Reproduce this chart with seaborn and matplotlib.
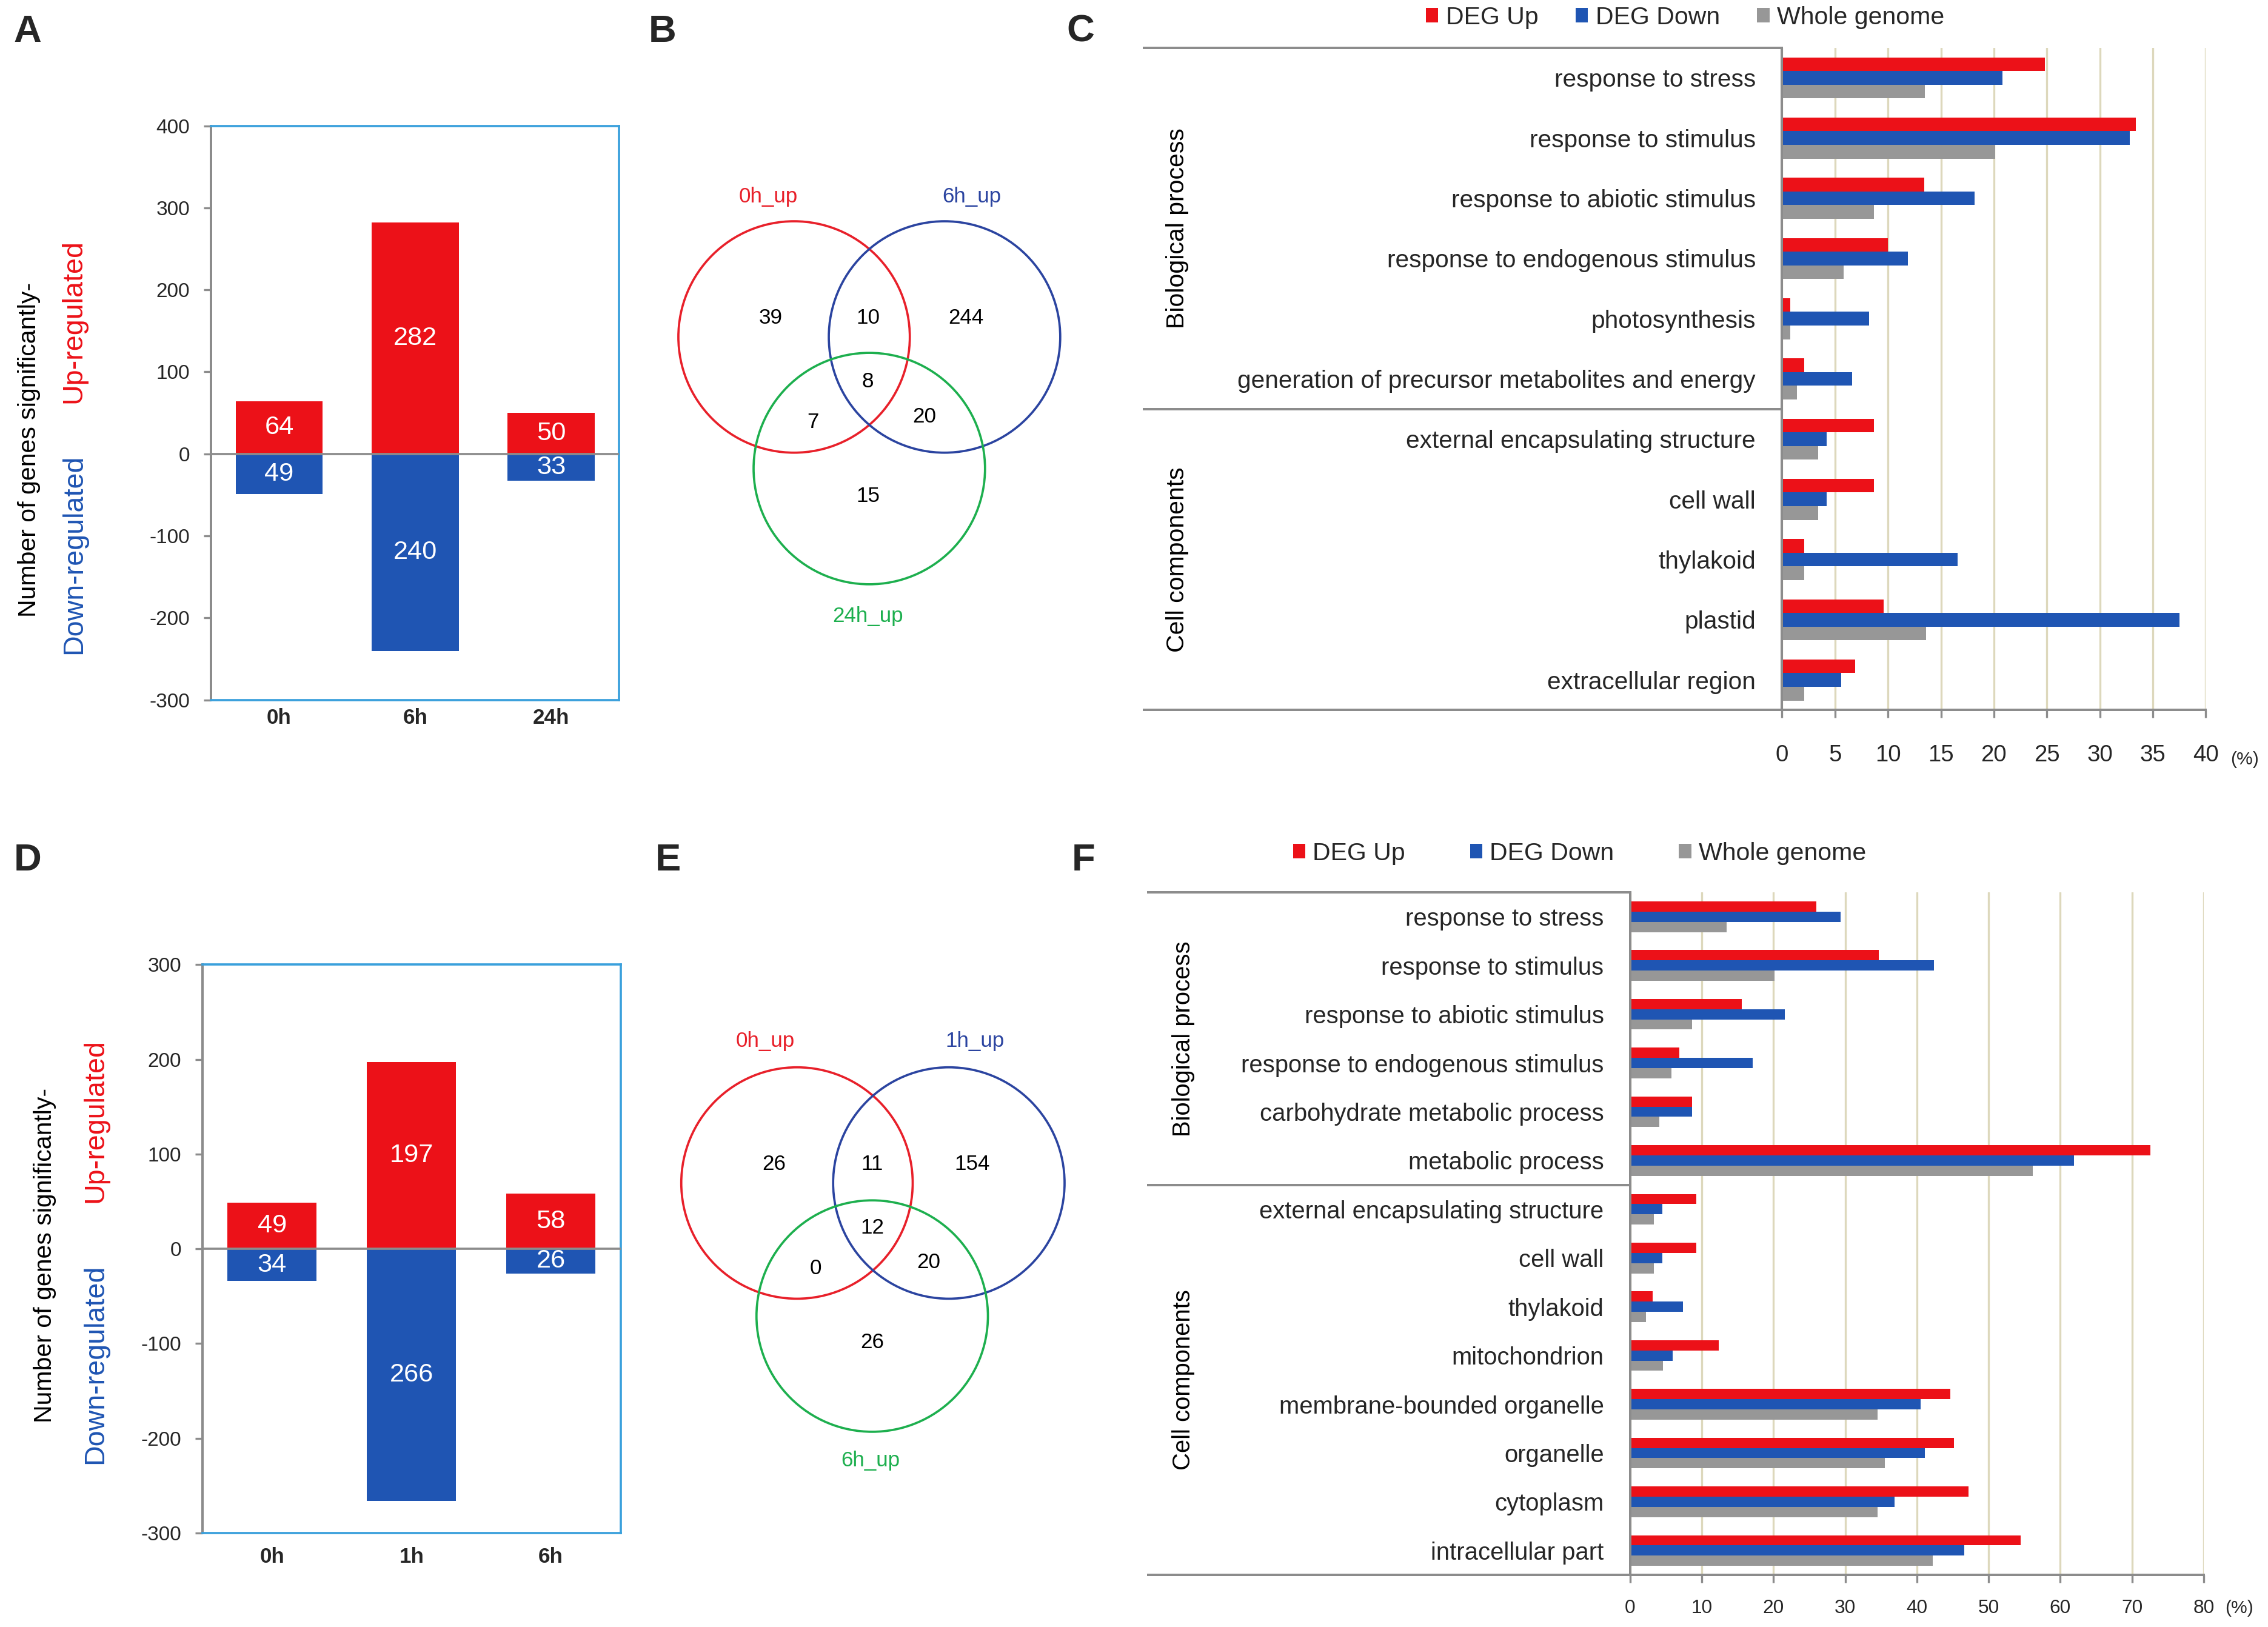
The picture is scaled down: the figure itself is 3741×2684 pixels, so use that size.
import numpy as np
import pandas as pd
import matplotlib
matplotlib.use("Agg")
import matplotlib.pyplot as plt
import matplotlib.transforms as mtransforms
from matplotlib.patches import Circle, Patch
import seaborn as sns

sns.set_theme(style="white")
plt.rcParams['font.family'] = ['Liberation Sans', 'DejaVu Sans']

# ---------------- data ----------------
a_times = ['0h', '6h', '24h']
a_up = [64, 282, 50]
a_down = [49, 240, 33]

d_times = ['0h', '1h', '6h']
d_up = [49, 197, 58]
d_down = [34, 266, 26]

# venn counts: onlyA, onlyB, onlyC, AB, AC, BC, ABC
b_sets = ['0h_up', '6h_up', '24h_up']
b_counts = [39, 244, 15, 10, 7, 20, 8]
e_sets = ['0h_up', '1h_up', '6h_up']
e_counts = [26, 154, 26, 11, 0, 20, 12]

series = ['DEG Up', 'DEG Down', 'Whole genome']
groups = ['Biological process', 'Cell components']

c_terms = ['response to stress', 'response to stimulus', 'response to abiotic stimulus',
           'response to endogenous stimulus', 'photosynthesis',
           'generation of precursor metabolites and energy',
           'external encapsulating structure', 'cell wall', 'thylakoid', 'plastid',
           'extracellular region']
c_up = [24.8, 33.4, 13.4, 10.0, 0.8, 2.1, 8.7, 8.7, 2.1, 9.6, 6.9]
c_down = [20.8, 32.8, 18.2, 11.9, 8.2, 6.6, 4.2, 4.2, 16.6, 37.5, 5.6]
c_whole = [13.5, 20.1, 8.7, 5.8, 0.8, 1.4, 3.4, 3.4, 2.1, 13.6, 2.1]
c_group_sizes = [6, 5]
c_xticks = [0, 5, 10, 15, 20, 25, 30, 35, 40]

f_terms = ['response to stress', 'response to stimulus', 'response to abiotic stimulus',
           'response to endogenous stimulus', 'carbohydrate metabolic process',
           'metabolic process', 'external encapsulating structure', 'cell wall',
           'thylakoid', 'mitochondrion', 'membrane-bounded organelle', 'organelle',
           'cytoplasm', 'intracellular part']
f_up = [26.0, 34.7, 15.6, 6.9, 8.6, 72.6, 9.2, 9.2, 3.1, 12.4, 44.7, 45.2, 47.2, 54.5]
f_down = [29.4, 42.4, 21.6, 17.1, 8.6, 61.9, 4.5, 4.5, 7.4, 5.9, 40.5, 41.1, 36.9, 46.6]
f_whole = [13.5, 20.1, 8.6, 5.8, 4.1, 56.2, 3.3, 3.3, 2.2, 4.6, 34.5, 35.5, 34.5, 42.2]
f_group_sizes = [6, 8]
f_xticks = [0, 10, 20, 30, 40, 50, 60, 70, 80]

# ---------------- style ----------------
RED = '#EC1118'
BLUE = '#1F55B3'
GREY = '#979797'
AXGREY = '#8C8C8C'
FRAME = '#3AA0DC'
GRID = '#DDD8BC'
V_RED = '#E8202A'
V_BLUE = '#2B44A0'
V_GREEN = '#1DAF4E'

W, H = 1568.0, 1125.0
fig = plt.figure(figsize=(3741 / 240, 2684 / 240), dpi=240)


def rect(x0, y0, x1, y1):
    return [x0 / W, 1 - y1 / H, (x1 - x0) / W, (y1 - y0) / H]


def ftext(x, y, s, **kw):
    fig.text(x / W, 1 - y / H, s, **kw)


# ---------------- up/down bar panels ----------------
def updown(box, times, up, down, ylim, yticks, xpad):
    ax = fig.add_axes(rect(*box))
    df = pd.DataFrame({'time': times, 'up': up, 'down': [-v for v in down]})
    sns.barplot(data=df, x='time', y='up', order=times, color=RED, saturation=1,
                width=0.64, linewidth=0, errorbar=None, ax=ax)
    sns.barplot(data=df, x='time', y='down', order=times, color=BLUE, saturation=1,
                width=0.64, linewidth=0, errorbar=None, ax=ax)
    ax.set_xlim(-0.5, len(times) - 0.5)
    ax.set_ylim(*ylim)
    ax.set_yticks(yticks)
    ax.set_yticklabels([str(t) for t in yticks], fontsize=10)
    ax.set_xlabel('')
    ax.set_ylabel('')
    ax.axhline(0, color=AXGREY, lw=1.1, zorder=3)
    for sp in ['top', 'right', 'bottom']:
        ax.spines[sp].set_color(FRAME)
        ax.spines[sp].set_linewidth(1.1)
    ax.spines['left'].set_color(AXGREY)
    ax.spines['left'].set_linewidth(1.2)
    ax.tick_params(axis='y', left=True, direction='out', length=3.5, width=1,
                   color=AXGREY, pad=7, labelsize=10)
    ax.tick_params(axis='x', bottom=False, length=0, pad=xpad, labelsize=10.5)
    for lab in ax.get_xticklabels():
        lab.set_fontweight('bold')
    for i, (u, d) in enumerate(zip(up, down)):
        ax.text(i, u / 2, str(u), color='white', fontsize=13, ha='center', va='center', zorder=4)
        ax.text(i, -d / 2, str(d), color='white', fontsize=13, ha='center', va='center', zorder=4)
    return ax


updown((146, 87, 428, 484), a_times, a_up, a_down, (-300, 400),
       [400, 300, 200, 100, 0, -100, -200, -300], 4)
updown((140, 667, 429, 1060), d_times, d_up, d_down, (-300, 300),
       [300, 200, 100, 0, -100, -200, -300], 7)

# y labels
for (x1, y1), (x2, yu, yd) in [((20, 311), (51, 222, 383)), ((31, 868), (66, 775, 943))]:
    ftext(x1, y1, 'Number of genes significantly-', rotation=90, ha='center', va='center',
          fontsize=12.3, color='black')
    ftext(x2, yu, 'Up-regulated', rotation=90, ha='center', va='center', fontsize=14, color=RED)
    ftext(x2, yd, 'Down-regulated', rotation=90, ha='center', va='center', fontsize=14, color=BLUE)


# ---------------- venn panels ----------------
def venn(box, centers, r, sets, counts, num_pos, lab_pos):
    ax = fig.add_axes(rect(*box))
    ax.set_xlim(box[0], box[2])
    ax.set_ylim(box[3], box[1])
    ax.axis('off')
    cols = [V_RED, V_BLUE, V_GREEN]
    for (cx, cy), c in zip(centers, cols):
        ax.add_patch(Circle((cx, cy), r, fill=False, ec=c, lw=1.1))
    for n, (x, y) in zip(counts, num_pos):
        ax.text(x, y, str(n), ha='center', va='center', fontsize=10.5, color='black')
    for s, (x, y), c in zip(sets, lab_pos, cols):
        ax.text(x, y, s, ha='center', va='center', fontsize=10.5, color=c)


venn((440, 100, 760, 450), [(549, 233), (653, 233), (601, 324)], 80, b_sets, b_counts,
     [(533, 220), (668, 220), (600, 343), (600, 220), (562, 292), (639, 288), (600, 264)],
     [(531, 136), (672, 136), (600, 426)])
venn((440, 685, 760, 1040), [(551, 818), (656, 818), (603, 910)], 80, e_sets, e_counts,
     [(535, 805), (672, 805), (603, 928), (603, 805), (564, 877), (642, 873), (603, 849)],
     [(529, 720), (674, 720), (602, 1010)])


# ---------------- GO horizontal bars ----------------
def gobars(box, terms, up, down, whole, xticks, group_sizes, xleft, xgrp, width,
           labfs, grpfs, tickfs, tickpad, pct_pos):
    ax = fig.add_axes(rect(*box))
    n = len(terms)
    df = pd.DataFrame({
        'term': terms * 3,
        'series': [s for s in series for _ in terms],
        'value': list(up) + list(down) + list(whole),
    })
    sns.barplot(data=df, y='term', x='value', hue='series', order=terms, hue_order=series,
                palette=[RED, BLUE, GREY], saturation=1, width=width, gap=0,
                orient='h', errorbar=None, linewidth=0, legend=False, ax=ax)
    ax.set_xlim(xticks[0], xticks[-1])
    ax.set_ylim(n - 0.5, -0.5)
    ax.set_xticks(xticks)
    ax.set_xticklabels([str(t) for t in xticks])
    ax.set_xlabel('')
    ax.set_ylabel('')
    ax.grid(axis='x', color=GRID, lw=1.0)
    ax.grid(axis='y', visible=False)
    ax.set_axisbelow(True)
    ax.spines['top'].set_visible(False)
    ax.spines['right'].set_visible(False)
    for sp in ['left', 'bottom']:
        ax.spines[sp].set_color(AXGREY)
        ax.spines[sp].set_linewidth(1.2)
    ax.tick_params(axis='y', left=False, length=0, pad=13, labelsize=labfs)
    ax.tick_params(axis='x', bottom=True, direction='out', length=4, width=1,
                   color=AXGREY, pad=tickpad, labelsize=tickfs)
    trans = mtransforms.blended_transform_factory(ax.transAxes, ax.transData)
    bounds = [-0.5]
    acc = -0.5
    for g in group_sizes:
        acc += g
        bounds.append(acc)
    for yv in bounds:
        ax.plot([xleft, 0], [yv, yv], transform=trans, color=AXGREY, lw=1.2,
                clip_on=False, solid_capstyle='butt')
    for name, lo, hi in zip(groups, bounds[:-1], bounds[1:]):
        ax.text(xgrp, (lo + hi) / 2, name, rotation=90, ha='center', va='center',
                transform=trans, fontsize=grpfs, color='black')
    ftext(pct_pos[0], pct_pos[1], '(%)', ha='center', va='center', fontsize=9)
    return ax


gobars((1232, 33, 1525, 491), c_terms, c_up, c_down, c_whole, c_xticks, c_group_sizes,
       (790 - 1232) / 293.0, (814 - 1232) / 293.0, 0.68, 12.2, 12.3, 11.5, 13, (1552, 525))
gobars((1127, 617, 1523.5, 1089), f_terms, f_up, f_down, f_whole, f_xticks, f_group_sizes,
       (793 - 1127) / 396.5, (818 - 1127) / 396.5, 0.63, 12, 12, 9.5, 8, (1548, 1112))

handles = [Patch(facecolor=c, edgecolor='none', label=s) for c, s in zip([RED, BLUE, GREY], series)]
fig.legend(handles=handles, loc='center', bbox_to_anchor=(1165 / W, 1 - 12 / H), ncol=3,
           frameon=False, fontsize=12.3, handlelength=0.5, handleheight=0.5,
           handletextpad=0.3, columnspacing=1.5, borderpad=0)
fig.legend(handles=handles, loc='center', bbox_to_anchor=(1092 / W, 1 - 590 / H), ncol=3,
           frameon=False, fontsize=12.3, handlelength=0.5, handleheight=0.5,
           handletextpad=0.3, columnspacing=2.6, borderpad=0)

# panel letters
for s, (x, y) in zip('ABCDEF', [(19, 22), (458, 22), (747, 22), (19, 595), (462, 595), (749, 595)]):
    ftext(x, y, s, ha='center', va='center', fontsize=19, fontweight='bold')

fig.savefig('out.png', dpi=240)
